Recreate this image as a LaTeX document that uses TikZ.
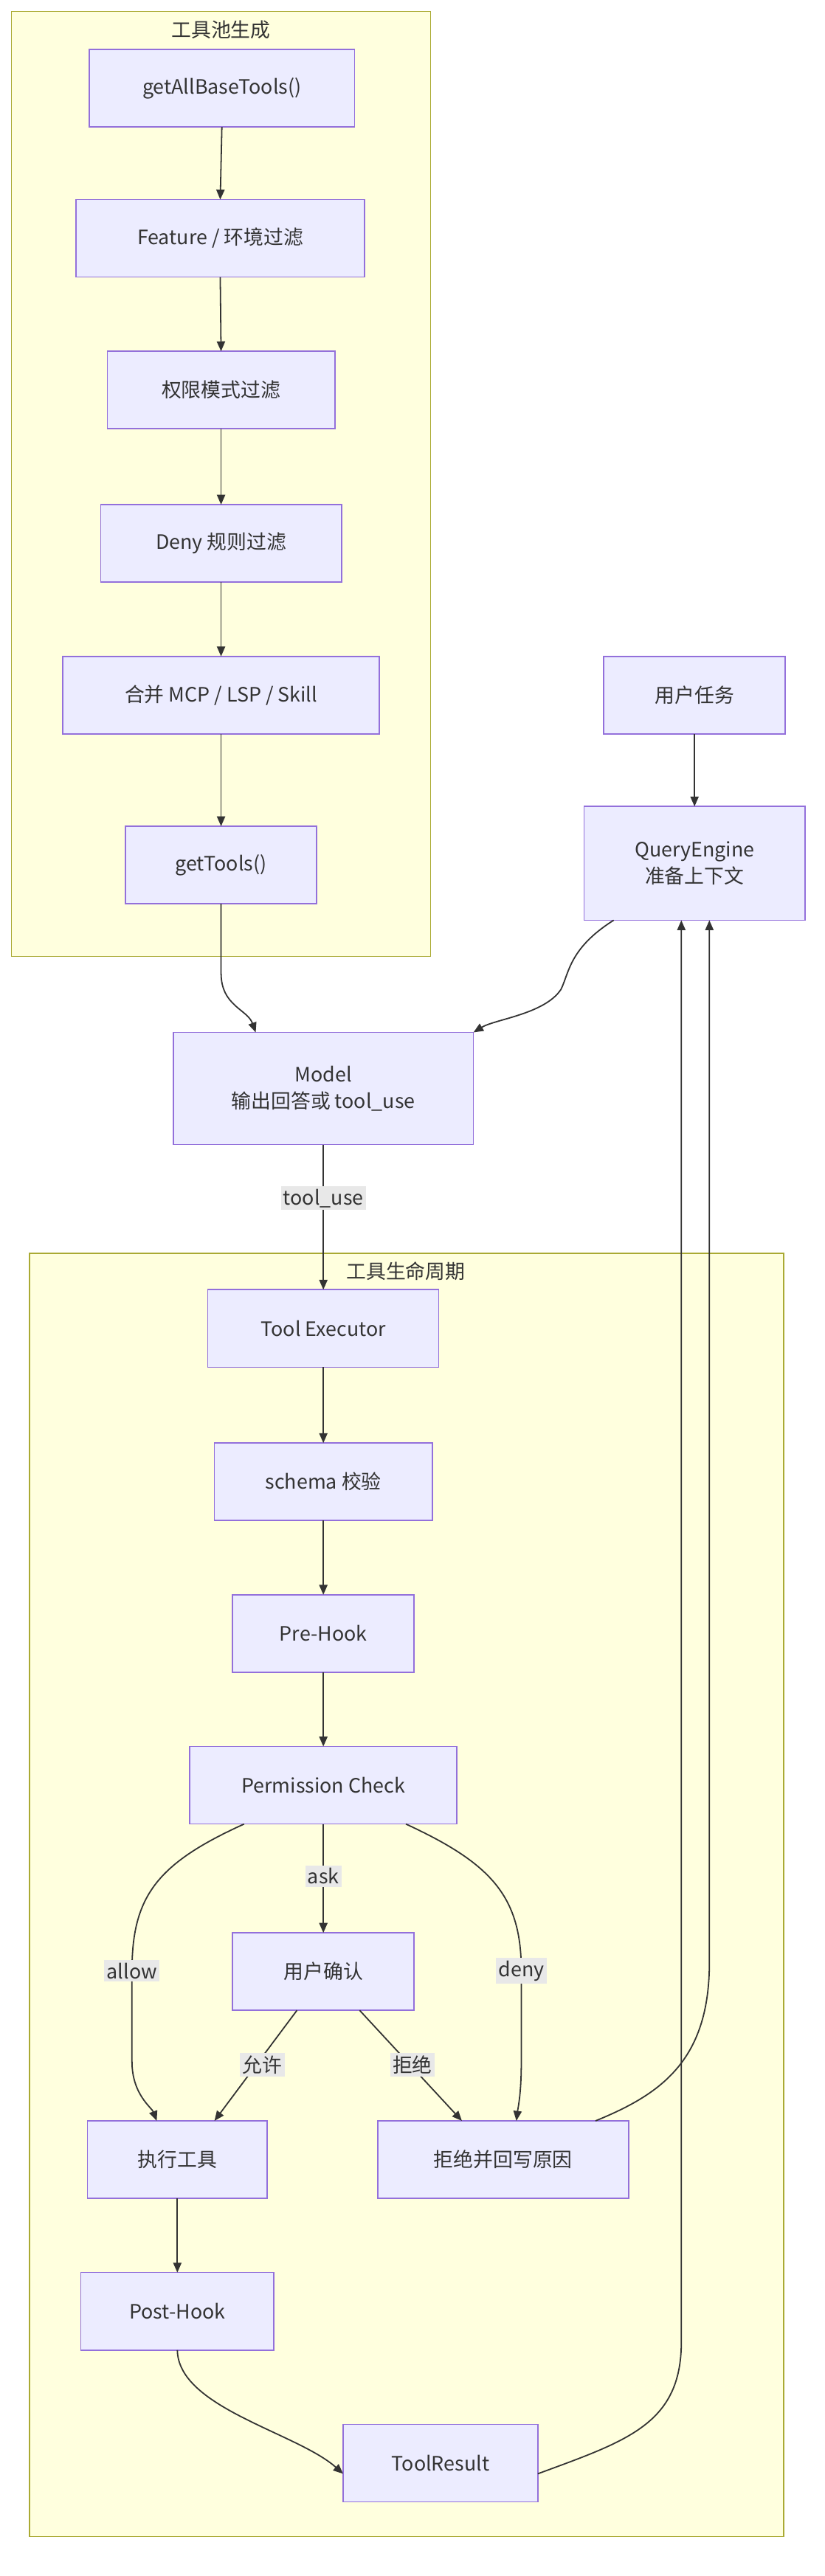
\documentclass[tikz,border=0pt]{standalone}
\usepackage{fontspec}
\setmainfont{Noto Sans CJK SC}
\usetikzlibrary{arrows.meta}
\definecolor{nf}{HTML}{ECECFF}\definecolor{ns}{HTML}{9370DB}
\definecolor{cf}{HTML}{FFFFDE}\definecolor{cs}{HTML}{AAAA33}
\definecolor{ed}{HTML}{333333}\definecolor{lb}{HTML}{E8E8E8}
\begin{document}
\begin{tikzpicture}[x=1pt,y=-1pt,
 every node/.style={font=\fontsize{12}{16}\selectfont,text=ed},
 box/.style={draw=ns,fill=nf,line width=0.7pt,align=center},
 clus/.style={draw=cs,fill=cf,line width=0.7pt},
 lab/.style={fill=lb,inner sep=1.5pt},
 e/.style={draw=ed,line width=0.8pt,-{Triangle[length=6pt,width=5pt]}}]
\useasboundingbox (0,0) rectangle (500,1562);
\fill[white] (0,0) rectangle (500,1562);
\draw[clus] (7,7) rectangle (261,580);
\node at (134,18) {工具池生成};
\draw[clus] (18,760) rectangle (475,1538);
\node at (246,771) {工具生命周期};
\newcommand{\bx}[6]{\path[box] (#2,#3) rectangle (#4,#5); \node[align=center] (#1) at ({(#2+#4)/2},{(#3+#5)/2}) {#6};
 \coordinate (#1n) at ({(#2+#4)/2},#3); \coordinate (#1s) at ({(#2+#4)/2},#5);}
\bx{a}{54}{30}{215}{77}{getAllBaseTools()}
\bx{b}{46}{121}{221}{168}{Feature / 环境过滤}
\bx{c}{65}{213}{203}{260}{权限模式过滤}
\bx{d}{61}{306}{207}{353}{Deny 规则过滤}
\bx{f}{38}{398}{230}{445}{合并 MCP / LSP / Skill}
\bx{g}{76}{501}{192}{548}{getTools()}
\bx{u}{366}{398}{476}{445}{用户任务}
\bx{q}{354}{489}{488}{558}{QueryEngine\\准备上下文}
\bx{m}{105}{626}{287}{694}{Model\\输出回答或 tool\_use}
\bx{te}{126}{782}{266}{829}{Tool Executor}
\bx{sc}{130}{875}{262}{922}{schema 校验}
\bx{ph}{141}{967}{251}{1014}{Pre-Hook}
\bx{pc}{115}{1059}{277}{1106}{Permission Check}
\bx{uc}{141}{1172}{251}{1219}{用户确认}
\bx{ex}{53}{1286}{162}{1333}{执行工具}
\bx{rj}{229}{1286}{381}{1333}{拒绝并回写原因}
\bx{po}{49}{1378}{166}{1425}{Post-Hook}
\bx{tr}{208}{1470}{326}{1517}{ToolResult}
\draw[e] (as)--(bn); \draw[e] (bs)--(cn); \draw[e] (cs)--(dn); \draw[e] (ds)--(fn); \draw[e] (fs)--(gn);
\draw[e] (us)--(qn);
\draw[e] (gs) -- (134,590) .. controls (134,610) and (150,612) .. (155,626);
\draw[e] (372,558) .. controls (345,575) and (345,590) .. (340,600) .. controls (330,615) and (300,618) .. (287,626);
\draw[e] (ms) -- (ten) node[lab,pos=0.37] {tool\_use};
\draw[e] (tes)--(scn); \draw[e] (scs)--(phn); \draw[e] (phs)--(pcn);
\draw[e] (pcs)--(ucn) node[lab,pos=0.48] {ask};
\draw[e] (148,1106) .. controls (95,1130) and (80,1150) .. (80,1195) -- (80,1250) .. controls (80,1270) and (92,1278) .. (95,1286);
\node[lab] at (80,1195) {allow};
\draw[e] (246,1106) .. controls (298,1130) and (316,1150) .. (316,1195) -- (316,1250) .. controls (316,1270) and (314,1278) .. (313,1286);
\node[lab] at (316,1195) {deny};
\draw[e] (180,1219) -- (130,1286); \node[lab] at (159,1252) {允许};
\draw[e] (218,1219) -- (280,1286); \node[lab] at (250,1252) {拒绝};
\draw[e] (exs)--(pon);
\draw[e] (pos) .. controls (108,1460) and (180,1475) .. (208,1500);
\draw[e] (326,1500) .. controls (380,1480) and (413,1470) .. (413,1420) -- (413,558);
\draw[e] (361,1286) .. controls (400,1270) and (430,1250) .. (430,1190) -- (430,558);
\end{tikzpicture}
\end{document}
